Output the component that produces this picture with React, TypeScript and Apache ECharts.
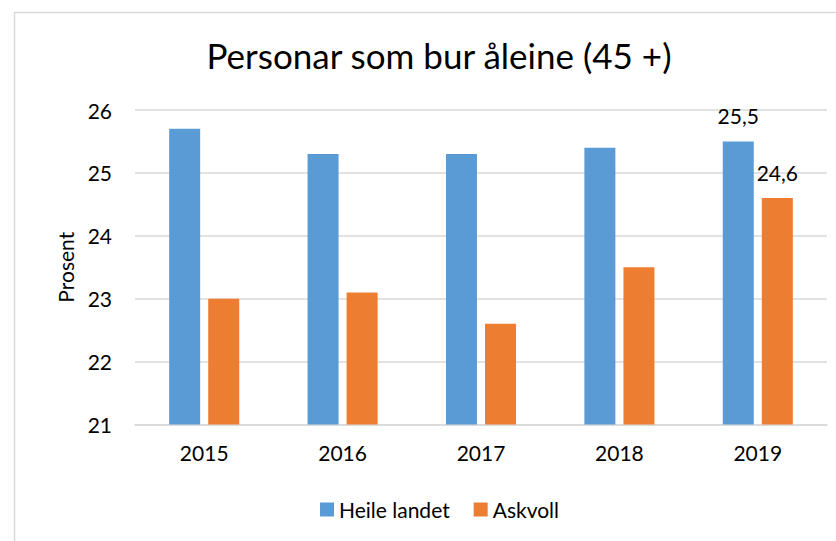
import React, { useEffect, useRef } from "react";
import * as echarts from "echarts";

const title = "Personar som bur åleine (45 +)";
const yAxisName = "Prosent";
const categories = ["2015", "2016", "2017", "2018", "2019"];
const seriesNames = ["Heile landet", "Askvoll"];
const heileLandet = [25.7, 25.3, 25.3, 25.4, 25.5];
const askvoll = [23.0, 23.1, 22.6, 23.5, 24.6];
const labelledIndex = [4];
const yMin = 21;
const yMax = 26;
const yInterval = 1;

const FONT = "Lato";
const TEXT = "#000000";
const GRID = "#D9D9D9";
const FS = 21;

export default function App() {
  const ref = useRef<HTMLDivElement>(null);
  useEffect(() => {
    if (!ref.current) return;
    const chart = echarts.init(ref.current, null, { renderer: "svg" });
    const mk = (vals: number[]) =>
      vals.map((v, i) => ({
        value: v,
        label: { show: labelledIndex.includes(i) },
      }));
    const labelCfg = {
      position: "top" as const,
      distance: 15,
      fontFamily: FONT,
      fontSize: FS,
      color: TEXT,
      formatter: (p: any) => String(p.value).replace(".", ","),
    };
    chart.setOption({
      animation: false,
      backgroundColor: "#ffffff",
      textStyle: { fontFamily: FONT },
      graphic: [
        {
          type: "rect",
          shape: { x: 14.5, y: 12.5, width: 1000, height: 1000 },
          style: { fill: "none", stroke: GRID, lineWidth: 1.5 },
          silent: true,
        },
      ],
      title: {
        text: title,
        left: 434,
        textAlign: "center",
        top: 32,
        textStyle: { fontFamily: FONT, fontSize: 35, fontWeight: "normal", color: TEXT },
      },
      legend: {
        data: seriesNames,
        left: 315,
        top: 494,
        icon: "rect",
        itemWidth: 14,
        itemHeight: 14,
        itemGap: 24,
        textStyle: { fontFamily: FONT, fontSize: FS, color: TEXT },
      },
      grid: { left: 135, right: 9, top: 110, bottom: 116.5, containLabel: false },
      xAxis: {
        type: "category",
        data: categories,
        axisLine: { lineStyle: { color: GRID, width: 1.5 } },
        axisTick: { show: false },
        axisLabel: { fontFamily: FONT, fontSize: FS, color: TEXT, margin: 17 },
      },
      yAxis: {
        type: "value",
        min: yMin,
        max: yMax,
        interval: yInterval,
        name: yAxisName,
        nameLocation: "middle",
        nameGap: 59,
        nameTextStyle: { fontFamily: FONT, fontSize: FS, color: TEXT },
        axisLine: { show: false },
        axisTick: { show: false },
        axisLabel: { fontFamily: FONT, fontSize: FS, color: TEXT, margin: 23 },
        splitLine: { lineStyle: { color: GRID, width: 1.5 } },
      },
      series: [
        {
          name: seriesNames[0],
          type: "bar",
          data: mk(heileLandet),
          barWidth: 31,
          barGap: "26%",
          itemStyle: { color: "#5B9BD5" },
          label: labelCfg,
        },
        {
          name: seriesNames[1],
          type: "bar",
          data: mk(askvoll),
          barWidth: 31,
          barGap: "26%",
          itemStyle: { color: "#ED7D31" },
          label: labelCfg,
        },
      ],
    });
    return () => chart.dispose();
  }, []);
  return (
    <div
      ref={ref}
      style={{ position: "absolute", left: 0, top: 0, width: 836, height: 541 }}
    />
  );
}
